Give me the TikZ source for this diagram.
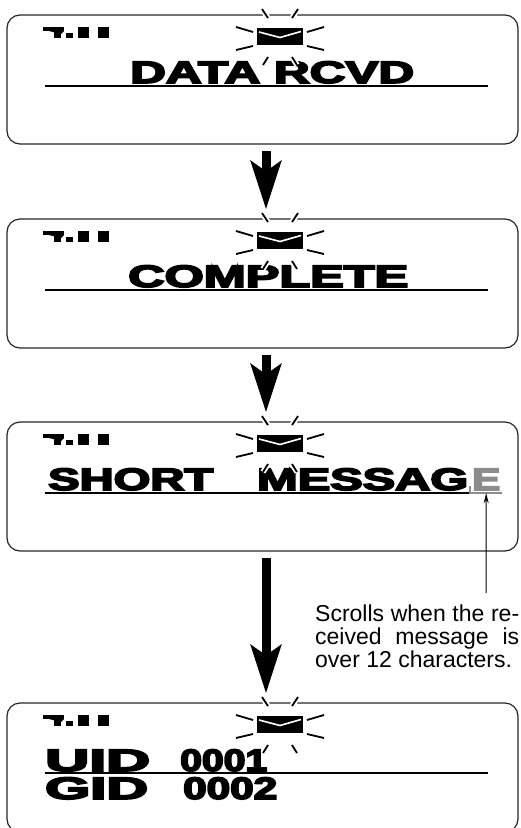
\documentclass[tikz,border=0pt]{standalone}
\usepackage{fontspec}
\usepackage{graphicx}
\usetikzlibrary{arrows.meta}
\newfontfamily\lcdfont{Liberation Sans Bold}[FakeBold=5]
\newfontfamily\notefont{Liberation Sans}
\definecolor{lcdgrey}{gray}{0.55}
\newcommand{\lcd}[2]{\resizebox{#1}{\height}{\fontsize{31}{31}\lcdfont #2}}
\tikzset{
  lcdbox/.style={draw=black!85, line width=1.2pt, rounded corners=13pt,
    minimum width=511pt, minimum height=129pt, inner sep=0pt},
  lcdline/.style={line width=1.2pt},
  lcdtxt/.style={anchor=base west, inner sep=0pt},
  notetxt/.style={anchor=north west, inner sep=0pt, text width=204pt,
    align=justify, font=\notefont\fontsize{23}{23}\selectfont},
  ray/.style={line width=1.8pt, preaction={draw=white, line width=5.5pt}},
  bigarrow/.style={line width=9pt, shorten <=6pt, shorten >=9pt,
    -{Stealth[length=48pt, width=30pt, inset=10pt]}},
  pointer/.style={line width=1pt, -{Stealth[length=10pt, width=5pt]}},
  signal/.pic={
    \fill (0,0) rectangle (21,4);
    \fill (6,4) -- (21,4) -- (18,7) -- cycle;
    \fill (11,4) rectangle (18,11);
    \fill (23,6) rectangle (30,11);
    \fill (35,0) rectangle (46,11);
    \fill (55,0) rectangle (66,11);
  },
  mail/.pic={
    \fill (-23,-8.5) rectangle (23,8.5);
    \draw[white, line width=1.6pt] (-21,-4.5) -- (0,1) -- (21,-5);
    \foreach \ax/\ay/\bx/\by in {-18/-27.5/-12/-18.5, 18/-27.5/12/-18.5,
        -44/-9.5/-27/-4.5, -44/13.5/-27/9.5, 27/-4.5/44/-9.5, 27/9.5/44/13.5,
        -12/20.5/-17/28.5, 12/20.5/17/28.5}
      \draw[ray] (\ax,\ay) -- (\bx,\by);
  }
}

\begin{document}
\begin{tikzpicture}[x=1pt,y=-1pt]
    \useasboundingbox (0,0) rectangle (520,828);
    \foreach \ty/\n in {15/1,219/2,422/3,703/4} {
      \node[lcdbox] (b\n) at (262.5,\ty+64.5) {};
      \pic at (43,\ty+12) {signal};
    }
    \draw[lcdline] (45,86) -- (488,86);
    \draw[lcdline] (45,290) -- (488,290);
    \draw[lcdline] (45,493) -- (470,493);
    \draw[lcdline, lcdgrey] (470,486) -- (470,493) -- (502,493);
    \draw[lcdline] (45,773) -- (488,773);

    \node[lcdtxt] (t1) at (130,83) {\lcd{284pt}{DATA RCVD}};
    \node[lcdtxt] (t2) at (128,287) {\lcd{280pt}{COMPLETE}};
    \node[lcdtxt] (t3a) at (48,490) {\lcd{165pt}{SHORT}};
    \node[lcdtxt] (t3b) at (257,490) {\lcd{211pt}{MESSAG}};
    \node[lcdtxt, text=lcdgrey] (eg) at (472,490) {\lcd{28pt}{E}};
    \node[lcdtxt] (t4a) at (45,771) {\lcd{105pt}{UID}};
    \node[lcdtxt] (t4b) at (180,771) {\lcd{87pt}{0001}};
    \node[lcdtxt] (t4c) at (45,799) {\lcd{103pt}{GID}};
    \node[lcdtxt] (t4d) at (183,799) {\lcd{94pt}{0002}};

    \foreach \ty in {15,219,422,703}
      \pic at (280,\ty+21.5) {mail};

    \draw[bigarrow] ([xshift=3.5pt]b1.south) -- ([xshift=3.5pt]b2.north);
    \draw[bigarrow] ([xshift=3.5pt]b2.south) -- ([xshift=3.5pt]b3.north);
    \draw[bigarrow] ([xshift=3.5pt]b3.south) -- ([xshift=3.5pt]b4.north);

    \node[notetxt] (note) at (315,605) {Scrolls when the re-\linebreak ceived message is\linebreak over 12 characters.};
    \coordinate (pt) at (486,593);
    \draw[pointer] (pt) -- ([yshift=-3pt]eg.south);
\end{tikzpicture}
\end{document}
